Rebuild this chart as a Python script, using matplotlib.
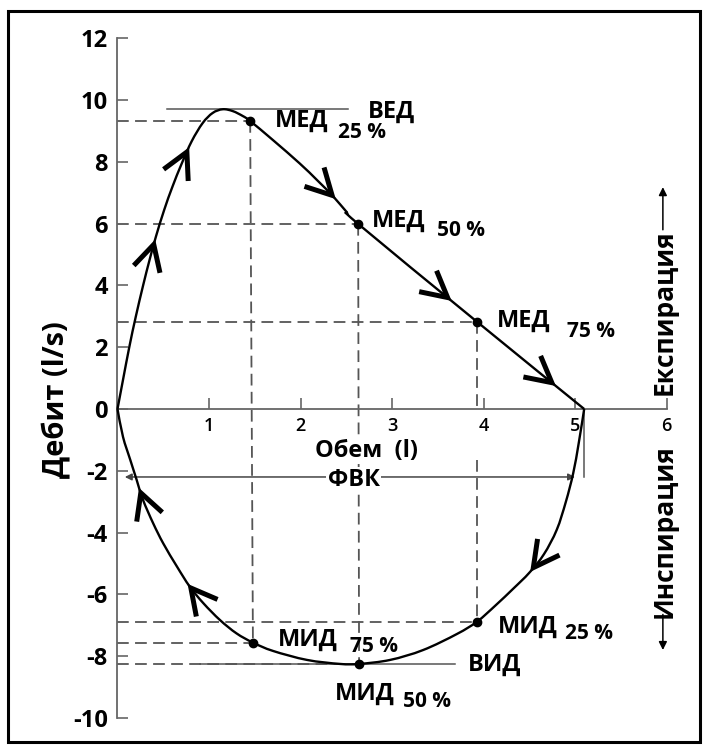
import numpy as np
import matplotlib
matplotlib.use('Agg')
import matplotlib.pyplot as plt
from matplotlib.patches import Rectangle, PathPatch
from matplotlib.path import Path

plt.rcParams['font.family'] = ['Open Sans', 'DejaVu Sans']
plt.rcParams['axes.unicode_minus'] = False

# Експираторна крива (обем l, дебит l/s), прочетена от картинката
exp_volume = [0.00, 0.06, 0.13, 0.20, 0.28, 0.35, 0.42, 0.51, 0.60, 0.70, 0.81,
              0.93, 1.04, 1.15, 1.26, 1.37, 1.45, 1.70, 1.99, 2.18, 2.36, 2.50,
              2.63, 3.93, 5.10]
exp_flow = [0.00, 0.94, 2.02, 2.99, 4.00, 4.82, 5.58, 6.44, 7.19, 7.93, 8.66,
            9.25, 9.58, 9.70, 9.64, 9.48, 9.32, 8.70, 7.95, 7.41, 6.87, 6.39,
            5.99, 2.82, 0.00]

# Инспираторна крива, в посоката на движение (от ФВК към 0)
insp_volume = [5.10, 5.04, 4.98, 4.90, 4.80, 4.66, 4.50, 4.33, 4.13, 3.93, 3.71,
               3.34, 2.98, 2.64, 2.43, 2.07, 1.70, 1.48, 1.30, 1.12, 0.94, 0.79,
               0.65, 0.50, 0.39, 0.28, 0.21, 0.14, 0.06, 0.00]
insp_flow = [0.00, -1.11, -2.08, -3.00, -3.91, -4.70, -5.30, -5.80, -6.36, -6.88,
             -7.28, -7.80, -8.12, -8.25, -8.25, -8.12, -7.83, -7.56, -7.26, -6.83,
             -6.29, -5.75, -5.10, -4.35, -3.70, -2.95, -2.30, -1.65, -0.90, 0.00]

# МЕД 25/50/75 % и МИД 25/50/75 %
med_volume = [1.45, 2.63, 3.93]
med_flow = [9.32, 5.99, 2.82]
mid_volume = [3.93, 2.64, 1.48]
mid_flow = [-6.88, -8.25, -7.56]

ved_flow = 9.72
vid_flow = -8.25
fvc_volume = 5.10
fvc_flow = -2.20

y_ticks = list(range(-10, 13, 2))
x_ticks = [1, 2, 3, 4, 5, 6]

# Стрелки по кривата (приблизителни върхове)
exp_arrow_tips = [(0.35, 5.36), (0.71, 8.38), (2.35, 6.93), (3.63, 3.69), (4.74, 0.83)]
insp_arrow_tips = [(4.53, -5.10), (0.82, -5.75), (0.26, -2.71)]

DASH = dict(color='#555555', lw=1.3, dashes=(6.5, 3.5), zorder=1)
BOLD = dict(fontweight='bold', color='black')


def smooth_path(vol, flow):
    # гладка крива през точките (Catmull-Rom като кубични Безие сегменти)
    p = np.column_stack([vol, flow]).astype(float)
    n = len(p)
    verts = [p[0]]
    codes = [Path.MOVETO]
    for i in range(n - 1):
        pm = p[i - 1] if i > 0 else p[i]
        pp = p[i + 2] if i + 2 < n else p[i + 1]
        c1 = p[i] + (p[i + 1] - pm) / 6
        c2 = p[i + 1] - (pp - p[i]) / 6
        verts += [c1, c2, p[i + 1]]
        codes += [Path.CURVE4] * 3
    return Path(verts, codes)


def draw_chevrons(ax, vol, flow, tips, length=29, half_angle=28):
    pts = ax.transData.transform(np.column_stack([vol, flow]))
    inv = ax.transData.inverted()
    for tx, ty in tips:
        q = ax.transData.transform((tx, ty))
        best = None
        for i in range(len(pts) - 1):
            a, b = pts[i], pts[i + 1]
            ab = b - a
            t = np.clip(np.dot(q - a, ab) / np.dot(ab, ab), 0, 1)
            c = a + t * ab
            dist = np.hypot(*(q - c))
            if best is None or dist < best[0]:
                best = (dist, c, i)
        _, tip, i = best
        i0, i1 = max(i - 1, 0), min(i + 2, len(pts) - 1)
        d = pts[i1] - pts[i0]
        d = d / np.hypot(*d)
        arms = []
        for sgn in (1, -1):
            a = np.deg2rad(sgn * half_angle)
            rot = np.array([[np.cos(a), -np.sin(a)], [np.sin(a), np.cos(a)]])
            arms.append(tip + length * (rot @ -d))
        xy = inv.transform([arms[0], tip, arms[1]])
        ax.plot(xy[:, 0], xy[:, 1], color='black', lw=3.6,
                solid_joinstyle='miter', solid_capstyle='butt', zorder=4)


fig = plt.figure(figsize=(7.09, 7.51), dpi=100)
ax = fig.add_axes([0, 0, 1, 1])
ax.set_xlim(-1.284, 6.464)
ax.set_ylim(-11.068, 13.236)

for s in ['top', 'right']:
    ax.spines[s].set_visible(False)
ax.spines['left'].set_position(('data', 0))
ax.spines['left'].set_bounds(-10, 12)
ax.spines['bottom'].set_position(('data', 0))
ax.spines['bottom'].set_bounds(0, 6)
for s in ['left', 'bottom']:
    ax.spines[s].set_color('#666666')
    ax.spines[s].set_linewidth(1.3)

ax.set_yticks(y_ticks)
ax.set_xticks(x_ticks)
ax.tick_params(axis='y', direction='in', length=8, width=1.2, color='#666666',
               pad=7, labelsize=17)
ax.tick_params(axis='x', direction='in', length=8, width=1.2, color='#666666',
               pad=6, labelsize=13)
for lab in ax.get_yticklabels():
    lab.set_fontweight('bold')
for lab in ax.get_xticklabels():
    lab.set_fontweight('semibold')

# Пунктирни помощни линии
for v, f in zip(med_volume, med_flow):
    ax.plot([0, v], [f, f], **DASH)
for v, f in zip(mid_volume, mid_flow):
    ax.plot([0, v], [f, f], **DASH)
ax.plot([med_volume[0], mid_volume[2]], [med_flow[0], mid_flow[2]], **DASH)
ax.plot([med_volume[1], mid_volume[1]], [med_flow[1], mid_flow[1]], **DASH)
ax.plot([med_volume[2], med_volume[2]], [med_flow[2], 0], **DASH)
ax.plot([mid_volume[0], mid_volume[0]], [-1.65, mid_flow[0]], **DASH)

# ВЕД и ВИД
ax.plot([0.54, 2.52], [ved_flow, ved_flow], color='#555555', lw=1.1, zorder=1)
ax.plot([0.90, 3.69], [vid_flow, vid_flow], color='#555555', lw=1.1, zorder=1)

# Кривата
for vol, flow in [(exp_volume, exp_flow), (insp_volume, insp_flow)]:
    ax.add_patch(PathPatch(smooth_path(vol, flow), fill=False, ec='black',
                           lw=1.7, zorder=3))
ax.plot(med_volume, med_flow, 'o', color='black', ms=6, zorder=5)
ax.plot(mid_volume, mid_flow, 'o', color='black', ms=6, zorder=5)

draw_chevrons(ax, exp_volume, exp_flow, exp_arrow_tips)
draw_chevrons(ax, insp_volume, insp_flow, insp_arrow_tips)

# ФВК
ax.plot([fvc_volume, fvc_volume], [0, fvc_flow], color='#555555', lw=1.1, zorder=1)
ax.annotate('', xy=(0.08, fvc_flow), xytext=(fvc_volume - 0.1, fvc_flow),
            arrowprops=dict(arrowstyle='<|-|>', color='#444444', lw=1.1,
                            mutation_scale=10, shrinkA=0, shrinkB=0), zorder=2)
ax.text(2.58, -2.30, 'ФВК', ha='center', va='center', fontsize=17, zorder=6,
        bbox=dict(fc='white', ec='none', pad=1), **BOLD)
ax.text(2.72, -1.36, 'Обем  (l)', ha='center', va='center', fontsize=17, zorder=6,
        bbox=dict(fc='white', ec='none', pad=1), **BOLD)

# Надписи на точките
labels = [
    (1.72, 9.32, 'МЕД', 17), (2.41, 8.96, '25 %', 15), (2.74, 9.62, 'ВЕД', 17),
    (2.78, 6.08, 'МЕД', 17), (3.49, 5.79, '50 %', 15),
    (4.15, 2.85, 'МЕД', 17), (4.91, 2.52, '75 %', 15),
    (4.16, -7.06, 'МИД', 17), (4.89, -7.28, '25 %', 15),
    (3.83, -8.28, 'ВИД', 17),
    (1.75, -7.48, 'МИД', 17), (2.54, -7.68, '75 %', 15),
    (2.38, -9.22, 'МИД', 17), (3.12, -9.45, '50 %', 15),
]
for x, y, t, fs in labels:
    ax.text(x, y, t, ha='left', va='center', fontsize=fs, zorder=6, **BOLD)

ax.text(-0.66, 0.29, 'Дебит (l/s)', rotation=90, ha='center', va='center',
        fontsize=21, **BOLD)

# Експирация / Инспирация
ax.text(5.97, 0.45, 'Експирация', rotation=90, ha='center', va='bottom',
        fontsize=19, **BOLD)
ax.annotate('', xy=(5.96, 7.18), xytext=(5.96, 5.80),
            arrowprops=dict(arrowstyle='-|>', color='black', lw=1.1,
                            mutation_scale=12, shrinkA=0, shrinkB=0))
ax.text(5.97, -1.15, 'Инспирация', rotation=90, ha='center', va='top',
        fontsize=19, **BOLD)
ax.annotate('', xy=(5.96, -7.80), xytext=(5.96, -6.65),
            arrowprops=dict(arrowstyle='-|>', color='black', lw=1.1,
                            mutation_scale=12, shrinkA=0, shrinkB=0))

fig.add_artist(Rectangle((8 / 709, 1 - 742 / 751), 692 / 709, 731 / 751,
                         transform=fig.transFigure, fill=False, lw=2.2,
                         ec='black'))

fig.savefig('out.png', dpi=100)
